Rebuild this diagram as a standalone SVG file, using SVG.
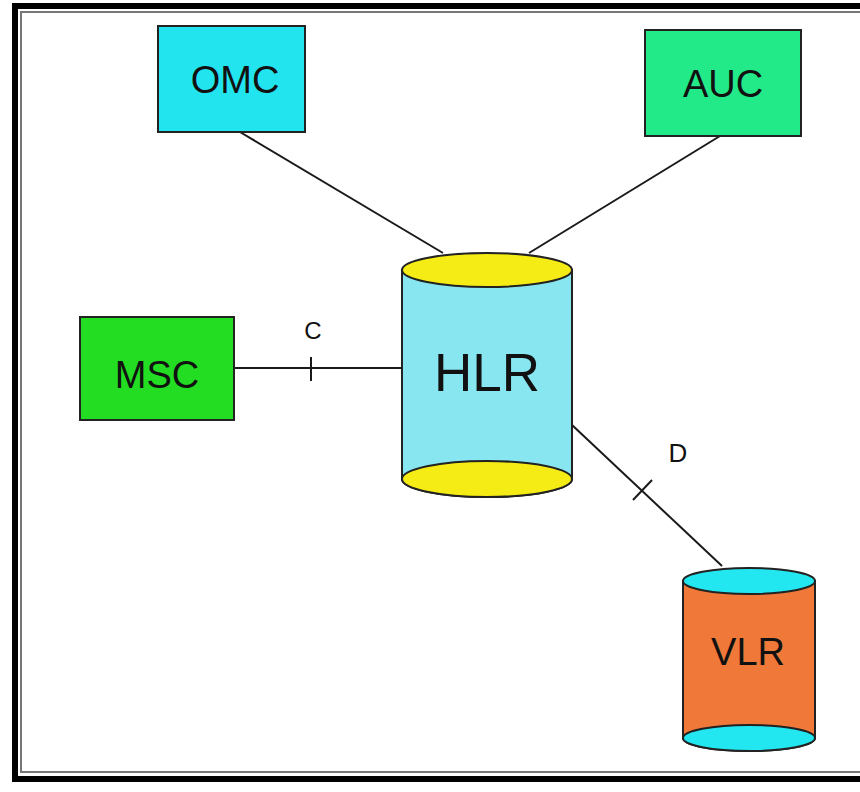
<svg xmlns="http://www.w3.org/2000/svg" width="860" height="792" viewBox="0 0 860 792">
<style>
.lbl{font-family:"Liberation Sans",Arial,sans-serif;fill:#111;text-anchor:middle}
.box{stroke:#222;stroke-width:2}
.edge{stroke:#1a1a1a;stroke-width:2;fill:none}
.cyl{stroke:#222;stroke-width:2}
</style>
<rect width="860" height="792" fill="#fff"/>
<g id="frame">
<rect x="15" y="6" width="900" height="773" fill="none" stroke="#000" stroke-width="6"/>
<rect x="21" y="12" width="900" height="760" fill="none" stroke="#777" stroke-width="2"/>
</g>
<g id="connectors">
<line class="edge" x1="240" y1="132" x2="443" y2="253"/>
<line class="edge" x1="720" y1="136" x2="529" y2="253"/>
<line class="edge" x1="234" y1="368" x2="401" y2="368"/>
<line class="edge" x1="311" y1="357" x2="311" y2="381"/>
<text class="lbl" x="313" y="339" font-size="24">C</text>
<line class="edge" x1="572" y1="425" x2="722" y2="566"/>
<line class="edge" x1="633" y1="500" x2="652" y2="480"/>
<text class="lbl" x="678" y="462" font-size="26">D</text>
</g>
<g id="OMC">
<rect class="box" x="158" y="26" width="147" height="106" fill="#22e4ee"/>
<text class="lbl" x="235" y="93" font-size="38">OMC</text>
</g>
<g id="AUC">
<rect class="box" x="645" y="30" width="156" height="106" fill="#22ea88"/>
<text class="lbl" x="723" y="97" font-size="38">AUC</text>
</g>
<g id="MSC">
<rect class="box" x="80" y="317" width="154" height="103" fill="#22dd22"/>
<text class="lbl" x="157" y="388" font-size="38">MSC</text>
</g>
<g id="HLR">
<path class="cyl" d="M402 270 L402 479 A85 18 0 0 0 572 479 L572 270 Z" fill="#88e6f0"/>
<ellipse class="cyl" cx="487" cy="479" rx="85" ry="18" fill="#f4ec14"/>
<ellipse class="cyl" cx="487" cy="270" rx="85" ry="17" fill="#f4ec14"/>
<text class="lbl" x="487" y="391" font-size="53">HLR</text>
</g>
<g id="VLR">
<path class="cyl" d="M683 581 L683 738 A66 13 0 0 0 815 738 L815 581 Z" fill="#f07838"/>
<ellipse class="cyl" cx="749" cy="738" rx="66" ry="13" fill="#22e6f0"/>
<ellipse class="cyl" cx="749" cy="581" rx="66" ry="13" fill="#22e6f0"/>
<text class="lbl" x="748" y="665" font-size="38">VLR</text>
</g>
</svg>
